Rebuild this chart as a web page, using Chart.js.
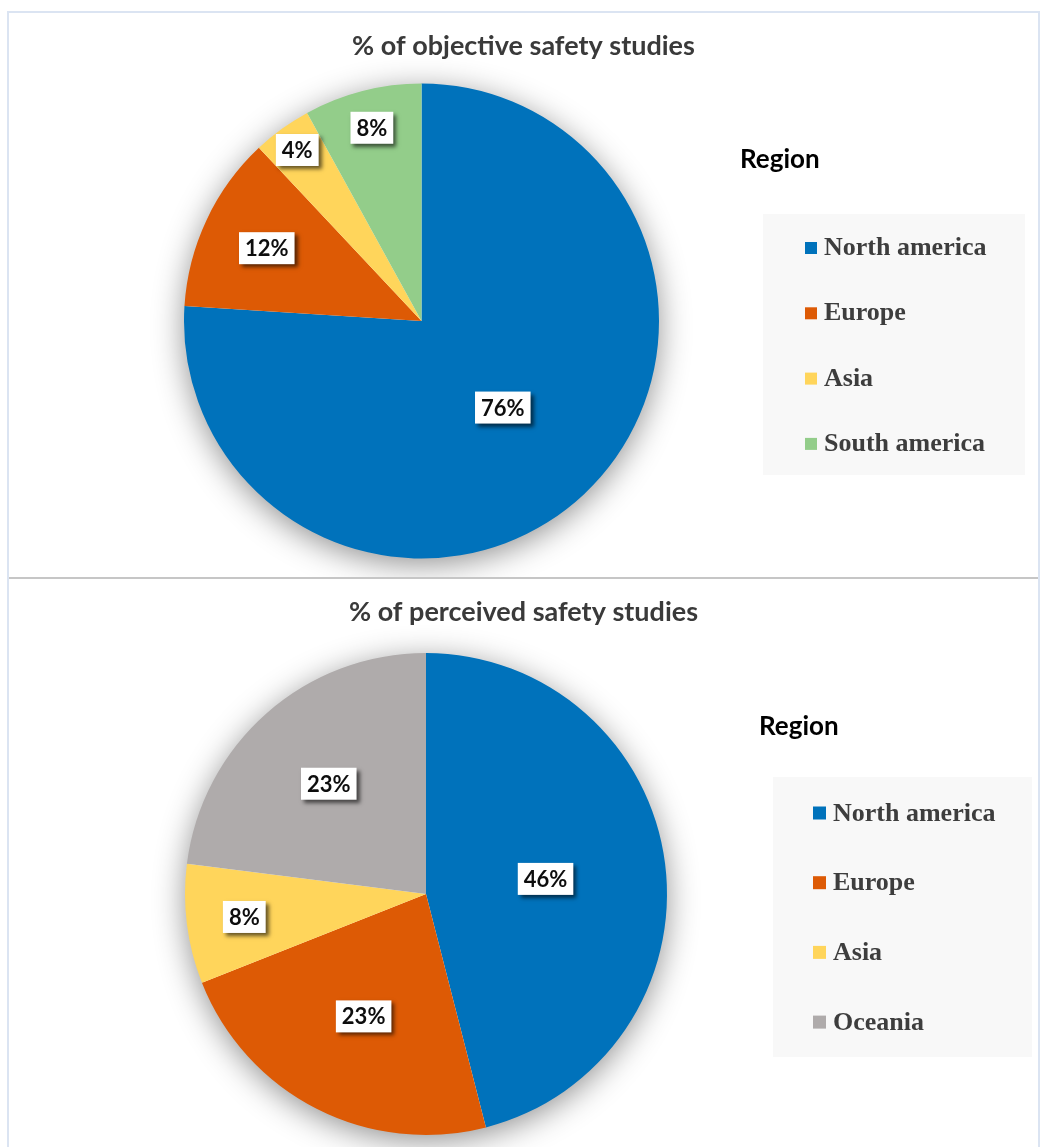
<!DOCTYPE html>
<html><head><meta charset="utf-8">
<script src="https://cdn.jsdelivr.net/npm/chart.js@4"></script>
<style>
html,body{margin:0;padding:0;background:#fff;}
#wrap{position:relative;width:1046px;height:1147px;overflow:hidden;}
#panel{position:absolute;left:7px;top:11px;width:1029px;height:1160px;border:2px solid #dbe4f2;}
#c1{position:absolute;left:9px;top:13px;}
#sep{position:absolute;left:9px;top:577px;width:1029px;height:2px;background:#c6c6c6;}
#c2{position:absolute;left:9px;top:580px;}
</style></head>
<body>
<div id="wrap">
<div id="panel"></div>
<canvas id="c1" width="1029" height="564"></canvas>
<div id="sep"></div>
<canvas id="c2" width="1029" height="567"></canvas>
</div>
<script>
// ---- data ----
const title1 = '% of objective safety studies';
const regions1 = ['North america', 'Europe', 'Asia', 'South america'];
const values1 = [76, 12, 4, 8];

const title2 = '% of perceived safety studies';
const regions2 = ['North america', 'Europe', 'Asia', 'Oceania'];
const values2 = [46, 23, 8, 23];

const legendTitle = 'Region';

// ---- styles ----
const colors1 = ['#0072bb', '#dd5a05', '#ffd55b', '#93cd8a'];
const colors2 = ['#0072bb', '#dd5a05', '#ffd55b', '#afabab'];

const decor = {
  id: 'decor',
  beforeDatasetsDraw(chart, args, o) {
    const ctx = chart.ctx;
    const arc = chart.getDatasetMeta(0).data[0];
    const p = arc.getProps(['x', 'y', 'outerRadius'], true);
    ctx.save();
    ctx.shadowColor = 'rgba(0,0,0,0.45)';
    ctx.shadowBlur = 32;
    ctx.shadowOffsetX = 0;
    ctx.shadowOffsetY = 6;
    ctx.beginPath();
    ctx.arc(p.x, p.y, p.outerRadius - 1, 0, Math.PI * 2);
    ctx.fillStyle = '#ffffff';
    ctx.fill();
    ctx.restore();
  },
  afterDatasetsDraw(chart, args, o) {
    const ctx = chart.ctx;
    const ds = chart.data.datasets[0];
    const meta = chart.getDatasetMeta(0);
    ctx.save();
    ctx.font = 'bold 22px Lato';
    meta.data.forEach((arc, i) => {
      const p = arc.getProps(['x', 'y', 'startAngle', 'endAngle', 'outerRadius'], true);
      const mid = (p.startAngle + p.endAngle) / 2;
      const r = p.outerRadius * o.labelPos[i];
      const lx = p.x + Math.cos(mid) * r;
      const ly = p.y + Math.sin(mid) * r;
      const txt = ds.data[i] + '%';
      const w = ctx.measureText(txt).width + 12;
      const h = 32;
      ctx.save();
      ctx.shadowColor = 'rgba(0,0,0,0.6)';
      ctx.shadowBlur = 4;
      ctx.shadowOffsetX = 3;
      ctx.shadowOffsetY = 3;
      ctx.fillStyle = '#ffffff';
      ctx.fillRect(lx - w / 2, ly - h / 2, w, h);
      ctx.restore();
      ctx.fillStyle = '#0d0d0d';
      ctx.textAlign = 'center';
      ctx.textBaseline = 'middle';
      ctx.fillText(txt, lx, ly + 1);
    });
    ctx.restore();
  },
  afterDraw(chart, args, o) {
    const ctx = chart.ctx;
    const ds = chart.data.datasets[0];
    ctx.save();
    // title
    ctx.font = 'bold 27px Lato';
    ctx.fillStyle = '#3a3a3a';
    ctx.textAlign = 'center';
    ctx.textBaseline = 'middle';
    ctx.fillText(o.title, chart.width / 2, o.titleY);
    // legend heading
    ctx.font = 'bold 26px Lato';
    ctx.fillStyle = '#000000';
    ctx.textAlign = 'left';
    ctx.textBaseline = 'alphabetic';
    ctx.fillText(o.legendTitle, o.headX, o.headBase);
    // legend box
    const b = o.box;
    ctx.fillStyle = '#f8f8f8';
    ctx.fillRect(b.x, b.y, b.w, b.h);
    ctx.font = 'bold 26px "Liberation Serif"';
    chart.data.labels.forEach((lab, i) => {
      const cy = o.itemY0 + i * o.itemGap;
      ctx.fillStyle = ds.backgroundColor[i];
      ctx.fillRect(o.sqX, cy - o.sq / 2, o.sq, o.sq);
      ctx.fillStyle = '#3d3d3d';
      ctx.fillText(lab, o.textX, cy + o.sq / 2 + 1);
    });
    ctx.restore();
  }
};

function makePie(id, labels, values, colors, pad, opts) {
  return new Chart(document.getElementById(id), {
    type: 'pie',
    data: {
      labels: labels,
      datasets: [{ data: values, backgroundColor: colors, borderWidth: 0 }]
    },
    options: {
      responsive: false,
      animation: false,
      layout: { padding: pad },
      plugins: {
        legend: { display: false },
        tooltip: { enabled: false },
        decor: opts
      }
    },
    plugins: [decor]
  });
}

makePie('c1', regions1, values1, colors1,
  { top: 70, bottom: 18, left: 175, right: 379 },
  { title: title1, titleY: 33, legendTitle: legendTitle, headX: 731, headBase: 155,
    box: { x: 754, y: 201, w: 262, h: 261 },
    sqX: 796, sq: 12, textX: 815, itemY0: 235, itemGap: 65.3,
    labelPos: [0.5, 0.72, 0.89, 0.84] });

makePie('c2', regions2, values2, colors2,
  { top: 73, bottom: 12, left: 176, right: 371 },
  { title: title2, titleY: 32, legendTitle: legendTitle, headX: 750, headBase: 155,
    box: { x: 764, y: 197, w: 259, h: 280 },
    sqX: 804, sq: 13, textX: 824, itemY0: 233, itemGap: 69.7,
    labelPos: [0.5, 0.57, 0.76, 0.61] });
</script>
</body></html>
